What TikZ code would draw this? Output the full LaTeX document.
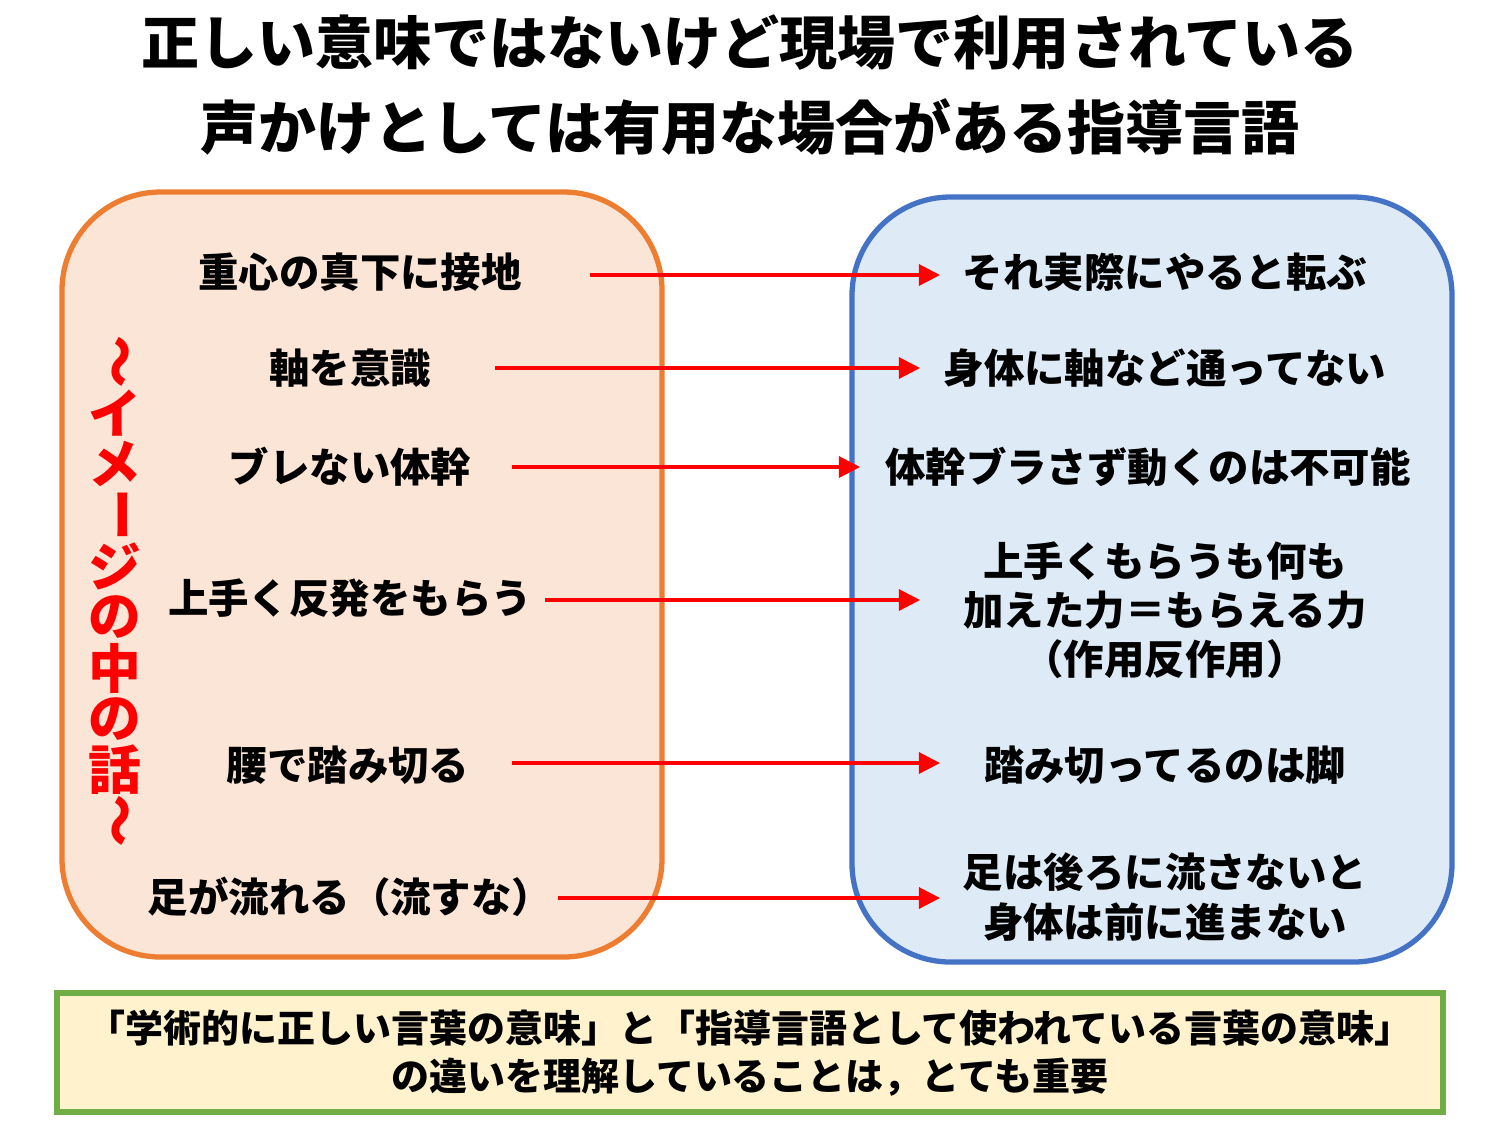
\documentclass[tikz,border=0pt]{standalone}
\usepackage{fontspec}
\setmainfont{Noto Sans CJK JP}
\usetikzlibrary{arrows.meta}
\definecolor{peach}{HTML}{FBE5D6}
\definecolor{orangeline}{HTML}{ED7D31}
\definecolor{paleblue}{HTML}{DEEBF7}
\definecolor{blueline}{HTML}{4472C4}
\definecolor{paleyellow}{HTML}{FFF2CC}
\definecolor{greenline}{HTML}{70AD47}
\tikzstyle{say}=[font=\fontsize{11.5}{15}\selectfont\bfseries,align=center,inner sep=0pt]
\tikzstyle{link}=[draw=red,line width=0.9pt,-{Triangle[length=6pt,width=6pt]}]
\begin{document}
\begin{tikzpicture}[x=0.01cm,y=-0.01cm]
		\useasboundingbox (0,0) rectangle (1500,1126);
		\node [font=\fontsize{16.5}{24}\selectfont\bfseries,align=center] (title) at (750,85) {正しい意味ではないけど現場で利用されている\\声かけとしては有用な場合がある指導言語};
		\draw [fill=peach,draw=orangeline,line width=1.5pt,rounded corners=28pt] (62,192) rectangle (662,957);
		\draw [fill=paleblue,draw=blueline,line width=1.5pt,rounded corners=28pt] (852,197) rectangle (1452,962);
		\draw [fill=paleyellow,draw=greenline,line width=1.5pt] (57,993) rectangle (1443,1112);
		\node [say,font=\fontsize{10.8}{13.5}\selectfont\bfseries] (note) at (750,1053) {「学術的に正しい言葉の意味」と「指導言語として使われている言葉の意味」\\の違いを理解していることは，とても重要};
		% vertical label
		\foreach \c/\r [count=\i] in {～/-90,イ/0,メ/0,ー/-90,ジ/0,の/0,中/0,の/0,話/0,～/-90}
			\node [text=red,font=\fontsize{15}{15}\selectfont\bfseries,rotate=\r,inner sep=0pt] (v\i) at (115,{362+(\i-1)*51}) {\c};
		% left texts
		\node [say] (l1) at (360,272) {重心の真下に接地};
		\node [say] (l2) at (350,368) {軸を意識};
		\node [say] (l3) at (350,467) {ブレない体幹};
		\node [say] (l4) at (350,598) {上手く反発をもらう};
		\node [say] (l5) at (348,765) {腰で踏み切る};
		\node [say] (l6) at (350,897) {足が流れる（流すな）};
		% right texts
		\node [say] (r1) at (1165,272) {それ実際にやると転ぶ};
		\node [say] (r2) at (1165,368) {身体に軸など通ってない};
		\node [say] (r3) at (1148,467) {体幹ブラさず動くのは不可能};
		\node [say,font=\fontsize{11.5}{14}\selectfont\bfseries] (r4) at (1165,610) {上手くもらうも何も\\加えた力＝もらえる力\\（作用反作用）};
		\node [say,font=\fontsize{11.5}{14}\selectfont\bfseries] (r6) at (1165,897) {足は後ろに流さないと\\身体は前に進まない};
		\node [say] (r5) at (1165,765) {踏み切ってるのは脚};
		% arrows
		\foreach \n/\a/\b/\y in {1/590/940/275,2/495/920/368,3/512/860/467,4/545/920/600,5/512/940/763,6/558/940/898}{
			\coordinate (s\n) at (\a,\y);
			\coordinate (e\n) at (\b,\y);
			\draw [link] (s\n) -- (e\n);
		}
\end{tikzpicture}
\end{document}
